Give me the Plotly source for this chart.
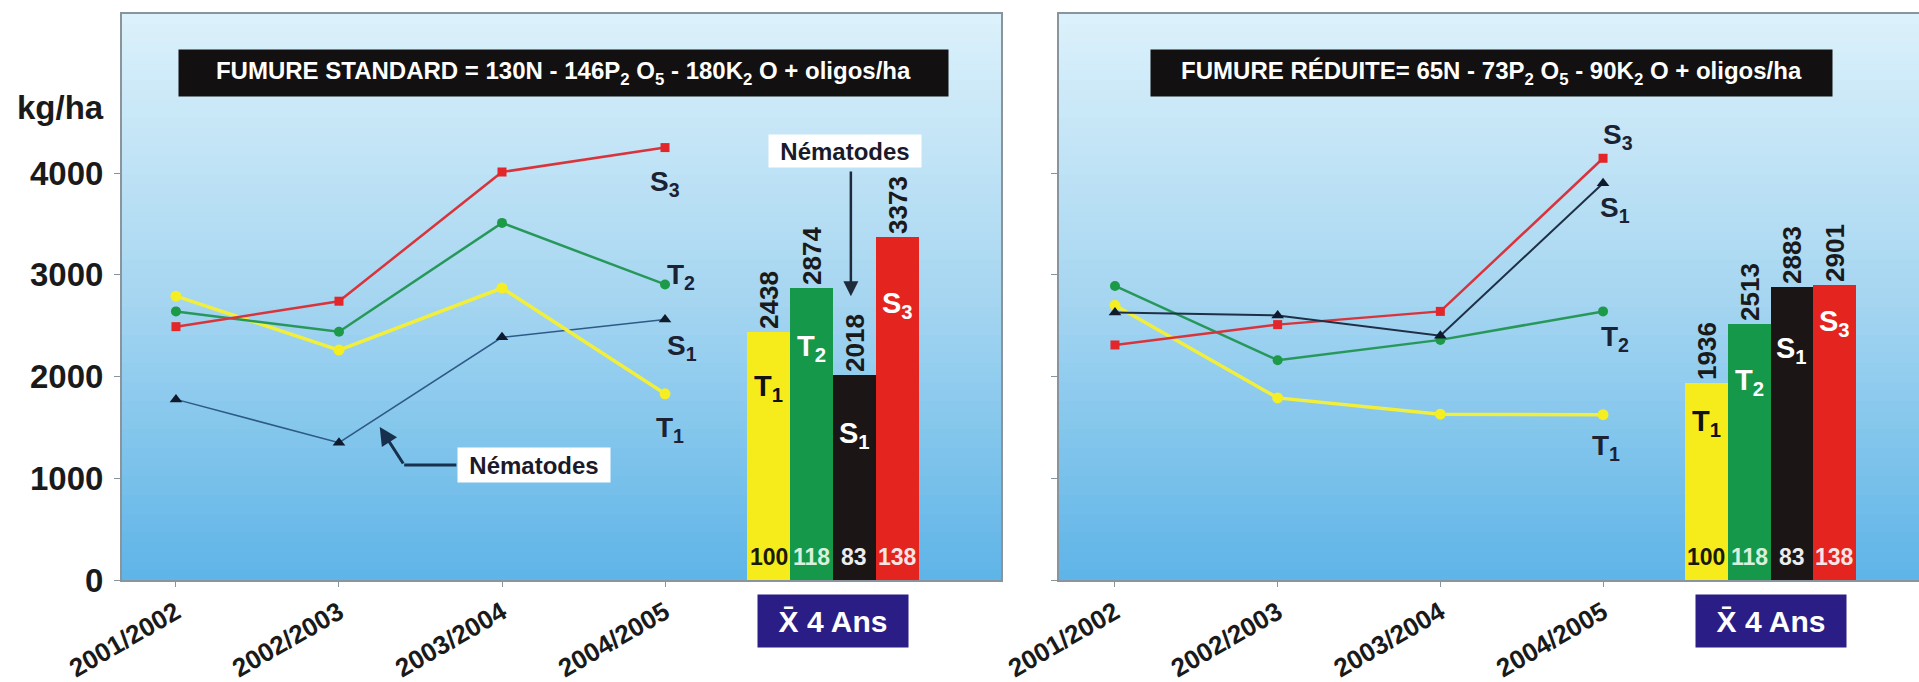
import plotly.graph_objects as go

# ---------------- data ----------------
years = ["2001/2002", "2002/2003", "2003/2004", "2004/2005"]
treatments = ["T1", "T2", "S1", "S3"]

std_T1 = [2790, 2260, 2870, 1830]
std_T2 = [2640, 2440, 3510, 2905]
std_S1 = [1775, 1350, 2385, 2560]
std_S3 = [2490, 2740, 4010, 4250]
std_mean = [2438, 2874, 2018, 3373]

red_T1 = [2700, 1790, 1630, 1625]
red_T2 = [2890, 2160, 2360, 2640]
red_S1 = [2630, 2600, 2400, 3900]
red_S3 = [2310, 2510, 2640, 4145]
red_mean = [1936, 2513, 2883, 2901]

index_pct = [100, 118, 83, 138]

title_std = "FUMURE STANDARD = 130N - 146P<sub>2</sub> O<sub>5</sub> - 180K<sub>2</sub> O + oligos/ha"
title_red = "FUMURE RÉDUITE= 65N - 73P<sub>2</sub> O<sub>5</sub> - 90K<sub>2</sub> O + oligos/ha"
y_ticks = [0, 1000, 2000, 3000, 4000]

# ---------------- style ----------------
FONT = "Liberation Sans, Arial, sans-serif"
W, H = 1919, 682
BAR_W = 0.263
BAR_START = 3.635
Y_MAX = 5563
COL = {"T1": "#f6ec1c", "T2": "#16984a", "S1": "#1b1515", "S3": "#e3241f"}
LINE = {
    "T1": dict(color="#f2ef3c", width=3.5),
    "T2": dict(color="#27985a", width=2.5),
    "S3": dict(color="#d8343c", width=2.5),
}
MARK = {
    "T1": dict(symbol="circle", size=11, color="#f4ee22"),
    "T2": dict(symbol="circle", size=10, color="#1c9a48"),
    "S1": dict(symbol="triangle-up", size=11, color="#0f1a2c"),
    "S3": dict(symbol="square", size=9, color="#e2262a"),
}
SUB = {"T1": "T<sub>1</sub>", "T2": "T<sub>2</sub>", "S1": "S<sub>1</sub>", "S3": "S<sub>3</sub>"}
PCT_COLORS = ["#1a1a00", "#d9f0dc", "#ececec", "#f8e4e4"]
AXC = "#8a949c"

fig = go.Figure()

xcat = list(range(len(years)))
bar_x = [BAR_START + BAR_W * i for i in range(len(treatments))]
group_center = sum(bar_x) / len(bar_x)

panels = [
    dict(xa="x", ya="y", data={"T1": std_T1, "T2": std_T2, "S1": std_S1, "S3": std_S3},
         mean=std_mean, s1_line=dict(color="#2d5a86", width=1.5),
         end_shift={"S3": (0, -36), "T2": (16, 8), "S1": (17, -28), "T1": (5, -36)},
         inner_shift=[-56, -60, -60, -68],
         order=["S1", "T1", "T2", "S3"]),
    dict(xa="x2", ya="y2", data={"T1": red_T1, "T2": red_T2, "S1": red_S1, "S3": red_S3},
         mean=red_mean, s1_line=dict(color="#1e3046", width=2),
         end_shift={"S3": (15, 22), "T2": (12, -27), "S1": (12, -26), "T1": (3, -33)},
         inner_shift=[-40, -58, -63, -38],
         order=["T1", "T2", "S3", "S1"]),
]

annotations = []
shapes = []


def ann(**kw):
    kw.setdefault("xanchor", "center")
    kw.setdefault("yanchor", "middle")
    kw.setdefault("showarrow", False)
    annotations.append(kw)


# gradient background
top = (220, 241, 251)
mid = (166, 214, 241)
bot = (94, 180, 231)
N = 60


def lerp(a, b, t):
    return tuple(int(round(a[k] + (b[k] - a[k]) * t)) for k in range(3))


for p in panels:
    xr = p["xa"] + " domain"
    yr = p["ya"] + " domain"
    for i in range(N):
        t = (i + 0.5) / N  # 0 bottom .. 1 top
        if t < 0.5:
            c = lerp(bot, mid, t / 0.5)
        else:
            c = lerp(mid, top, (t - 0.5) / 0.5)
        shapes.append(dict(type="rect", xref=xr, yref=yr, x0=0, x1=1,
                           y0=i / N, y1=(i + 1) / N + 0.002, layer="below",
                           fillcolor="rgb(%d,%d,%d)" % c, line=dict(width=0)))

for p in panels:
    xa, ya = p["xa"], p["ya"]
    for name in p["order"]:
        vals = p["data"][name]
        line = p["s1_line"] if name == "S1" else LINE[name]
        fig.add_trace(go.Scatter(x=xcat, y=vals, mode="lines+markers", line=line,
                                 marker=MARK[name], xaxis=xa, yaxis=ya,
                                 showlegend=False, cliponaxis=False))
    fig.add_trace(go.Bar(x=bar_x, y=p["mean"], width=BAR_W,
                         marker=dict(color=[COL[t] for t in treatments], line=dict(width=0)),
                         text=[str(v) for v in p["mean"]], textposition="outside",
                         textangle=-90, constraintext="none", cliponaxis=False,
                         textfont=dict(family=FONT, size=26, color="#1a1a1a", weight="bold"),
                         xaxis=xa, yaxis=ya, showlegend=False))
    # end-of-line labels
    for name in treatments:
        dx, dy = p["end_shift"][name]
        ann(x=xcat[-1], y=p["data"][name][-1], xref=xa, yref=ya,
            text=SUB[name], xshift=dx, yshift=dy,
            font=dict(family=FONT, size=28, color="#1b2233", weight="bold"))
    # inner bar labels
    for i, name in enumerate(treatments):
        ann(x=bar_x[i], y=p["mean"][i], xref=xa, yref=ya,
            text=SUB[name], yshift=p["inner_shift"][i],
            font=dict(family=FONT, size=29,
                      color="#111111" if name == "T1" else "#ffffff", weight="bold"))
        ann(x=bar_x[i], y=0, xref=xa, yref=ya,
            text=str(index_pct[i]), yshift=23,
            font=dict(family=FONT, size=23, color=PCT_COLORS[i], weight="bold"))
    # X 4 Ans box
    ann(x=group_center, y=1 - 621 / H, xref=xa, yref="paper",
        text="X\u0304 4 Ans", bgcolor="#2b1d86",
        width=146, height=48, borderpad=2,
        font=dict(family=FONT, size=30, color="#ffffff", weight="bold"))

# title boxes
ann(x=563.5 / W, y=1 - 72.5 / H, xref="paper", yref="paper",
    text=title_std, bgcolor="#121010", width=769, height=46, borderpad=0,
    font=dict(family=FONT, size=24, color="#ffffff", weight="bold"))
ann(x=1491.5 / W, y=1 - 72.5 / H, xref="paper", yref="paper",
    text=title_red, bgcolor="#121010", width=681, height=46, borderpad=0,
    font=dict(family=FONT, size=24, color="#ffffff", weight="bold"))

# kg/ha
ann(x=60 / W, y=1 - 108 / H, xref="paper", yref="paper", text="kg/ha",
    font=dict(family=FONT, size=33, color="#1a1a1a", weight="bold"))

# Nématodes (line panel)
ann(x=2.196, y=1130, xref="x", yref="y", text="Nématodes",
    bgcolor="#ffffff", width=152, height=34, borderpad=0,
    font=dict(family=FONT, size=24, color="#1a1a2a", weight="bold"))
shapes.append(dict(type="line", xref="x", yref="y", x0=1.72, x1=1.40, y0=1130, y1=1130,
                   line=dict(color="#17304d", width=3)))
annotations.append(dict(x=1.25, y=1504, xref="x", yref="y", ax=1.40, ay=1130,
                        axref="x", ayref="y", text="", showarrow=True, arrowhead=2,
                        arrowsize=1.2, arrowwidth=3, arrowcolor="#17304d"))
# Nématodes (bar group)
ann(x=4.104, y=4216, xref="x", yref="y", text="Nématodes",
    bgcolor="#ffffff", width=152, height=32, borderpad=0,
    font=dict(family=FONT, size=24, color="#1a1a2a", weight="bold"))
annotations.append(dict(x=4.14, y=2790, xref="x", yref="y", ax=4.14, ay=4030,
                        axref="x", ayref="y", text="", showarrow=True, arrowhead=2,
                        arrowsize=1.2, arrowwidth=2.5, arrowcolor="#1f2a3a"))

xtickfont = dict(family=FONT, size=26, color="#1a1a1a", weight="bold")
common_x = dict(tickvals=xcat, ticktext=years, tickangle=-30, ticks="outside", ticklen=5,
                tickcolor=AXC, showline=True, linecolor=AXC, linewidth=2, mirror=True,
                showgrid=False, zeroline=False, tickfont=xtickfont, automargin=False)
common_y = dict(range=[0, Y_MAX], tickvals=y_ticks, ticks="outside", ticklen=6, tickcolor=AXC,
                showline=True, linecolor=AXC, linewidth=2, mirror=True, showgrid=False,
                zeroline=False, automargin=False)

fig.update_layout(
    width=W, height=H, margin=dict(l=0, r=0, t=0, b=0, autoexpand=False),
    paper_bgcolor="#ffffff", plot_bgcolor="#a6d6f1",
    showlegend=False, bargap=0,
    xaxis=dict(domain=[122 / W, 1001 / W], range=[-0.331, 5.061], anchor="y", **common_x),
    xaxis2=dict(domain=[1059 / W, 1.0], range=[-0.344, 4.942], anchor="y2", **common_x),
    yaxis=dict(domain=[1 - 580 / H, 1 - 14 / H], anchor="x", ticklabelstandoff=4,
               tickfont=dict(family=FONT, size=33, color="#1a1a1a", weight="bold"), **common_y),
    yaxis2=dict(domain=[1 - 580 / H, 1 - 14 / H], anchor="x2", showticklabels=False, **common_y),
    annotations=annotations,
    shapes=shapes,
)

fig.write_html("out.html", config={"displayModeBar": False},
               post_script="document.body.style.margin='0';document.body.style.overflow='hidden';")
